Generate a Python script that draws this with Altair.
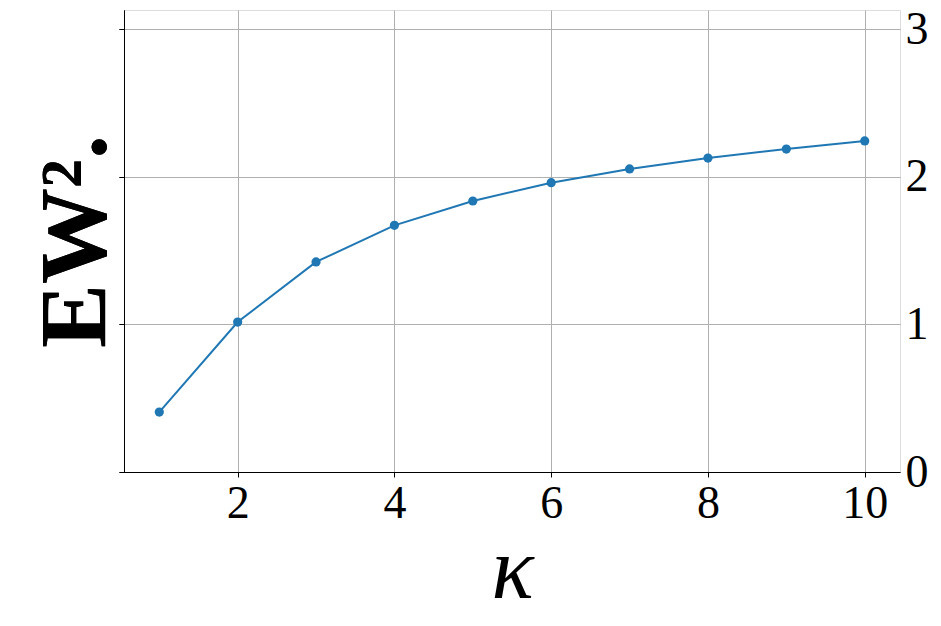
import altair as alt
import pandas as pd

kappa = [1, 2, 3, 4, 5, 6, 7, 8, 9, 10]
ew2 = [0.406, 1.016, 1.423, 1.671, 1.836, 1.960, 2.053, 2.127, 2.188, 2.243]
x_ticks = [2, 4, 6, 8, 10]
y_ticks = [0, 1, 2, 3]

df = pd.DataFrame({"kappa": kappa, "ew2": ew2})

serif = "Liberation Serif"
blue = "#1f77b4"
grid = "#b0b0b0"

x_enc = alt.X(
    "kappa:Q",
    scale=alt.Scale(domain=[0.55, 10.45], nice=False, zero=False),
    axis=alt.Axis(
        values=x_ticks, grid=True, gridColor=grid, gridWidth=1,
        ticks=True, tickSize=5, tickColor="black", domainColor="black",
        labelFont=serif, labelFontSize=46, labelColor="black",
        labelPadding=4, labelBaseline="top", labelFlush=False,
        title="κ", titleFont=serif, titleFontSize=88, titleFontStyle="italic",
        titleFontWeight="normal", titleColor="black",
        titleBaseline="alphabetic", titleY=125,
    ),
)

y_scale = alt.Scale(domain=[0, 3.13], nice=False, zero=True)

left_y = alt.Y(
    "ew2:Q", scale=y_scale,
    axis=alt.Axis(
        values=y_ticks, orient="left", labels=False, ticks=True, tickSize=5,
        tickColor="black", domainColor="black", grid=True, gridColor=grid,
        gridWidth=1,
        title="EW².", titleFont=serif, titleFontSize=96, titleFontWeight="bold",
        titleColor="black", titleAngle=270, titleBaseline="alphabetic",
        titleX=-19,
    ),
)

right_y = alt.Y(
    "ew2:Q", scale=y_scale, title=None,
    axis=alt.Axis(
        values=y_ticks, orient="right", labels=True, ticks=False, tickSize=0,
        domain=False, grid=False, labelFont=serif, labelFontSize=46,
        labelColor="black", labelPadding=5, labelAlign="left",
        labelBaseline="middle", labelFlush=False,
    ),
)

line = alt.Chart(df).mark_line(color=blue, strokeWidth=2).encode(x=x_enc, y=left_y)
pts = alt.Chart(df).mark_circle(color=blue, size=85, opacity=1).encode(x=x_enc, y=left_y)
right = alt.Chart(df).mark_point(opacity=0).encode(x=x_enc, y=right_y)

chart = (
    alt.layer(line, pts, right)
    .resolve_scale(y="independent")
    .properties(
        width=776, height=462,
        autosize=alt.AutoSizeParams(type="none"),
        padding={"left": 116, "top": 2, "right": 33, "bottom": 152},
    )
    .configure_view(stroke="black", strokeWidth=1)
    .configure(background="white")
)

chart.save("out.html", embed_options={"renderer": "svg", "actions": False})
